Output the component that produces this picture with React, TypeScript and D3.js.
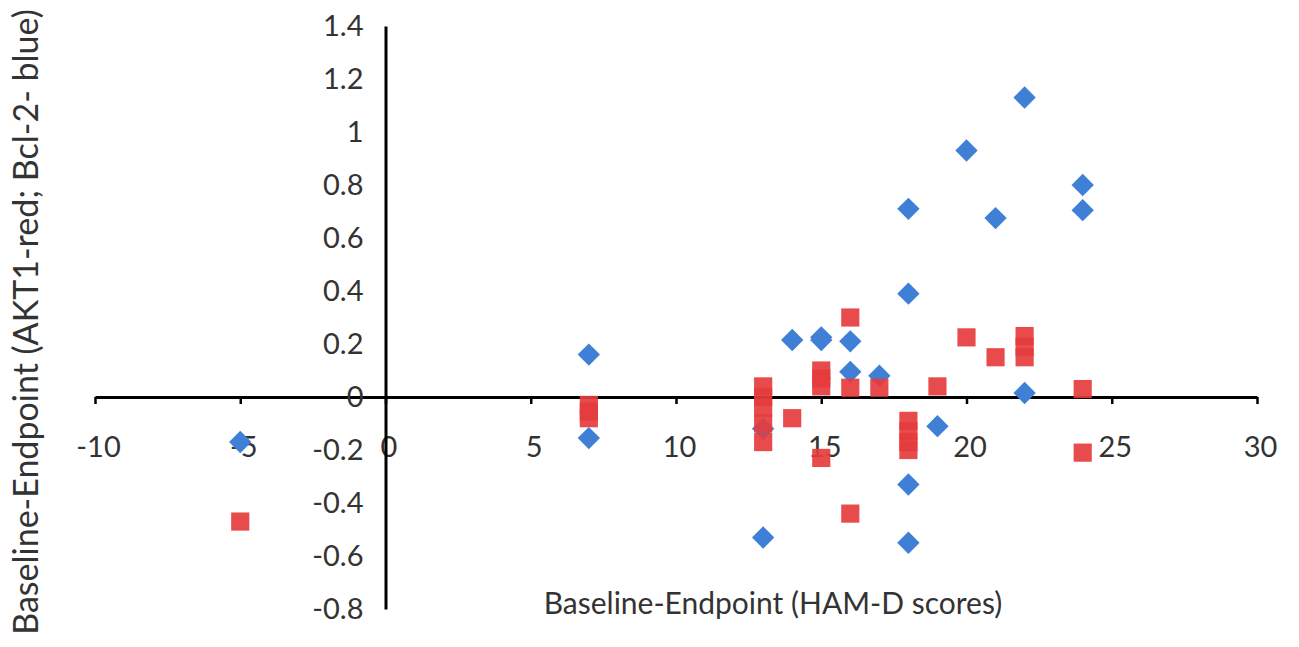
import React, { useRef, useEffect } from "react";
import * as d3 from "d3";

// Bcl-2 (blue diamonds)
const blueX = [-5, 7, 7, 13, 13, 14, 15, 15, 16, 16, 17, 18, 18, 18, 18, 19, 20, 21, 22, 22, 24, 24];
const blueY = [-0.17, 0.16, -0.155, -0.12, -0.53, 0.215, 0.215, 0.225, 0.21, 0.095, 0.08, 0.71, 0.39, -0.33, -0.55, -0.11, 0.93, 0.675, 1.13, 0.015, 0.8, 0.705];

// AKT1 (red squares)
const redX = [-5, 7, 7, 7, 13, 13, 13, 13, 13, 14, 15, 15, 15, 15, 16, 16, 16, 17, 18, 18, 18, 18, 19, 20, 21, 22, 22, 22, 24, 24];
const redY = [-0.47, -0.03, -0.055, -0.08, 0.04, 0.0, -0.04, -0.1, -0.17, -0.08, 0.1, 0.07, 0.04, -0.23, 0.3, 0.035, -0.44, 0.035, -0.09, -0.13, -0.17, -0.2, 0.04, 0.225, 0.15, 0.23, 0.19, 0.15, 0.03, -0.21];

const xTicks = [-10, -5, 0, 5, 10, 15, 20, 25, 30];
const yTicks = [-0.8, -0.6, -0.4, -0.2, 0, 0.2, 0.4, 0.6, 0.8, 1, 1.2, 1.4];

const xTitle = "Baseline-Endpoint (HAM-D scores)";
const yTitle = "Baseline-Endpoint (AKT1-red; Bcl-2- blue)";

const W = 1299;
const H = 647;
const FONT = "Lato, 'Open Sans', sans-serif";

// plain hyphen for negatives, like the original spreadsheet chart
const fmt = (d) => String(+d.toFixed(2));

export default function App() {
  const svgRef = useRef(null);

  useEffect(() => {
    document.body.style.margin = "0";
    const svg = d3.select(svgRef.current);
    svg.selectAll("*").remove();

    const x = d3.scaleLinear().domain([-10, 30]).range([95, 1257]);
    const y = d3.scaleLinear().domain([-0.8, 1.4]).range([609, 26]);

    // x axis crossing at y = 0
    const gx = svg
      .append("g")
      .attr("transform", `translate(0,${y(0)})`)
      .call(
        d3
          .axisBottom(x)
          .tickValues(xTicks)
          .tickSize(7)
          .tickSizeOuter(0)
          .tickPadding(32)
          .tickFormat(fmt)
      );
    gx.select(".domain").attr("stroke", "#000").attr("stroke-width", 3);
    gx.selectAll(".tick line").attr("stroke", "#000").attr("stroke-width", 2.5);
    gx.selectAll("text")
      .attr("font-family", FONT)
      .attr("font-size", 29)
      .attr("fill", "#333")
      .attr("dx", 3);

    // y axis crossing at x = 0
    const gy = svg
      .append("g")
      .attr("transform", `translate(${x(0)},0)`)
      .call(d3.axisLeft(y).tickValues(yTicks).tickSize(0).tickPadding(22).tickFormat(fmt));
    gy.select(".domain").attr("stroke", "#000").attr("stroke-width", 3);
    gy.selectAll("text")
      .attr("font-family", FONT)
      .attr("font-size", 29)
      .attr("fill", "#333");

    // blue diamonds
    const diamond = d3.symbol(d3.symbolSquare, 250);
    svg
      .append("g")
      .selectAll("path")
      .data(blueX.map((v, i) => [v, blueY[i]]))
      .join("path")
      .attr("d", diamond)
      .attr("transform", (d) => `translate(${x(d[0])},${y(d[1])}) rotate(45)`)
      .attr("fill", "#3f80d6");

    // red squares
    const square = d3.symbol(d3.symbolSquare, 330);
    svg
      .append("g")
      .selectAll("path")
      .data(redX.map((v, i) => [v, redY[i]]))
      .join("path")
      .attr("d", square)
      .attr("transform", (d) => `translate(${x(d[0])},${y(d[1])})`)
      .attr("fill", "#e53c3d")
      .attr("fill-opacity", 0.92);

    // axis titles
    svg
      .append("text")
      .attr("x", 773)
      .attr("y", 614)
      .attr("text-anchor", "middle")
      .attr("font-family", FONT)
      .attr("font-size", 30)
      .attr("fill", "#333")
      .text(xTitle);

    svg
      .append("text")
      .attr("transform", `translate(38,${322}) rotate(-90)`)
      .attr("text-anchor", "middle")
      .attr("font-family", FONT)
      .attr("font-size", 34)
      .attr("fill", "#333")
      .text(yTitle);
  }, []);

  return <svg ref={svgRef} width={W} height={H} style={{ display: "block", background: "#fff" }}></svg>;
}
